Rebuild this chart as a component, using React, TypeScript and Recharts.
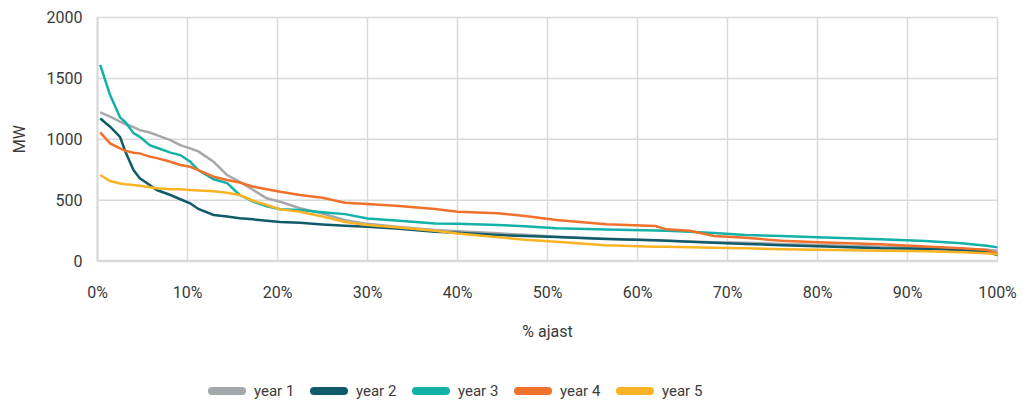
import React from 'react';
import { LineChart, Line, XAxis, YAxis, CartesianGrid, Legend } from 'recharts';

const shareOfTime = [0.3, 1.4, 2.5, 3.1, 4, 4.7, 5.8, 6.6, 8.1, 9.2, 10.3, 11.2, 12.9, 14.4, 15.8, 17.3, 18.8, 20.3, 22.5, 25, 27.5, 30, 33.5, 37.5, 40, 44.5, 47.5, 51, 56.5, 62, 63.2, 65.8, 68.5, 72, 76, 80, 87, 92, 96, 98.8, 100];

const year1 = [1220, 1185, 1145, 1125, 1100, 1075, 1055, 1034, 993, 952, 925, 900, 815, 706, 651, 583, 515, 487, 433, 390, 335, 305, 280, 255, 245, 227, 215, 200, 182, 170, 168, 160, 155, 150, 140, 132, 117, 110, 100, 92, 85];
const year2 = [1171, 1103, 1020, 897, 747, 679, 624, 583, 542, 507, 474, 427, 378, 365, 352, 342, 330, 320, 314, 300, 290, 282, 265, 241, 232, 213, 205, 197, 180, 170, 167, 159, 150, 140, 130, 122, 104, 100, 90, 76, 49];
const year3 = [1610, 1363, 1180, 1140, 1050, 1020, 952, 930, 890, 870, 815, 747, 671, 640, 542, 487, 450, 425, 419, 400, 385, 350, 331, 309, 305, 296, 285, 268, 258, 250, 248, 241, 230, 213, 205, 195, 178, 165, 145, 125, 112];
const year4 = [1057, 966, 925, 905, 890, 884, 857, 845, 815, 788, 774, 747, 692, 665, 645, 610, 590, 569, 542, 520, 479, 468, 452, 428, 405, 392, 369, 337, 301, 287, 260, 249, 205, 190, 167, 155, 137, 120, 105, 90, 63];
const year5 = [706, 657, 636, 630, 625, 618, 605, 597, 590, 589, 583, 580, 572, 560, 542, 495, 460, 424, 405, 365, 320, 296, 275, 249, 225, 195, 175, 159, 130, 118, 117, 112, 108, 104, 96, 93, 85, 80, 72, 63, 55];

const xTicks = [0, 10, 20, 30, 40, 50, 60, 70, 80, 90, 100];
const yTicks = [0, 500, 1000, 1500, 2000];

const seriesNames = ['year 1', 'year 2', 'year 3', 'year 4', 'year 5'];
const seriesColors = ['#a5a8aa', '#0f5b6a', '#13b1a8', '#f0712c', '#fbb326'];
const seriesValues = [year1, year2, year3, year4, year5];

const data = shareOfTime.map((x, i) => {
  const row: Record<string, number> = { x };
  seriesNames.forEach((n, k) => {
    row[n] = seriesValues[k][i];
  });
  return row;
});

const FONT = 'Roboto, "DejaVu Sans", sans-serif';
const TEXT = '#3a3a3a';

const LegendContent = () => (
  <div style={{ display: 'flex', justifyContent: 'flex-start', alignItems: 'center', fontFamily: FONT, fontSize: 15, color: TEXT, paddingLeft: 200, paddingTop: 10 }}>
    {seriesNames.map((n, k) => (
      <div key={n} style={{ display: 'flex', alignItems: 'center', width: 102, flexShrink: 0 }}>
        <div style={{ width: 38, height: 8, borderRadius: 4, background: seriesColors[k], marginRight: 8, flexShrink: 0 }} />
        <span>{n}</span>
      </div>
    ))}
  </div>
);

export default function App() {
  return (
    <LineChart width={1010} height={394} data={data} margin={{ top: 9.5, right: 20.5, bottom: 0, left: 0 }} style={{ fontFamily: FONT }}>
      <CartesianGrid stroke="#d9d9d9" strokeWidth={1.5} vertical horizontal />
      <XAxis
        dataKey="x"
        type="number"
        domain={[0, 100]}
        ticks={xTicks}
        tickFormatter={(v: number) => `${v}%`}
        tickLine={false}
        tickSize={0}
        tickMargin={26}
        height={111}
        axisLine={{ stroke: '#d9d9d9', strokeWidth: 2.5 }}
        tick={{ fill: TEXT, fontSize: 16 }}
        label={{ value: '% ajast', position: 'insideTop', offset: 65, fill: TEXT, fontSize: 16 }}
        interval={0}
      />
      <YAxis
        type="number"
        domain={[0, 2000]}
        ticks={yTicks}
        tickLine={false}
        tickSize={0}
        tickMargin={15}
        width={89.5}
        axisLine={{ stroke: '#d9d9d9', strokeWidth: 2 }}
        tick={{ fill: TEXT, fontSize: 16 }}
        label={{ value: 'MW', angle: -90, position: 'insideLeft', offset: 11, fill: TEXT, fontSize: 16, style: { textAnchor: 'middle' } }}
        interval={0}
      />
      <Legend verticalAlign="bottom" height={30} content={<LegendContent />} />
      {seriesNames.map((n, k) => (
        <Line key={n} type="linear" dataKey={n} stroke={seriesColors[k]} strokeWidth={2.5} dot={false} isAnimationActive={false} />
      ))}
    </LineChart>
  );
}
